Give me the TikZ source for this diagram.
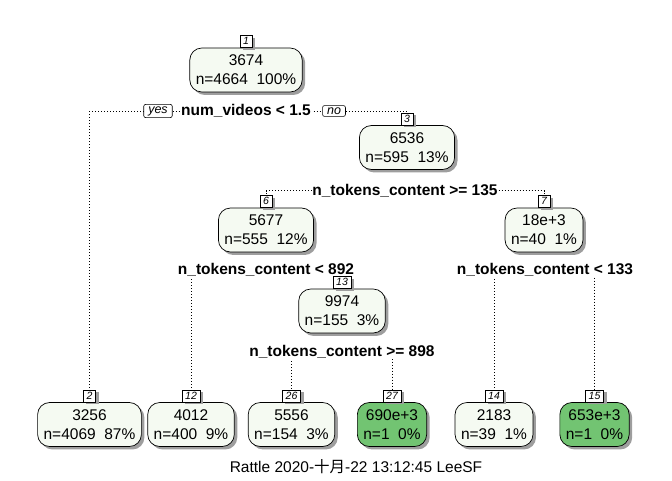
\documentclass[tikz,border=0pt]{standalone}
\usepackage{fontspec}
\setmainfont{Liberation Sans}
\newfontfamily\cjk{Noto Sans CJK SC}
\usetikzlibrary{shadows}
\definecolor{lightg}{HTML}{F5FAF2}
\definecolor{darkg}{HTML}{72C472}
\pgfdeclarelayer{bg}
\pgfsetlayers{bg,main}
\begin{document}
\begin{tikzpicture}[x=1pt,y=-1pt,
  tn/.style={draw, rounded corners=12pt, align=center,
    font=\fontsize{15.5}{19}\selectfont, inner xsep=6pt, inner ysep=7pt,
    fill=lightg, line width=0.7pt,
    drop shadow={shadow xshift=3pt, shadow yshift=-3pt, fill=black!38, opacity=1}},
  dk/.style={tn, fill=darkg},
  lbl/.style={draw, fill=white, font=\fontsize{10.5}{11}\selectfont\itshape,
    inner xsep=3.2pt, inner ysep=1pt, minimum height=12pt, line width=0.6pt,
    anchor=south,
    drop shadow={shadow xshift=3pt, shadow yshift=-2.5pt, fill=black!38, opacity=1}},
  sp/.style={font=\fontsize{15.5}{18}\selectfont\bfseries, fill=white, inner sep=0.8pt},
  yn/.style={draw, fill=white, rounded corners=2pt,
    font=\fontsize{12.5}{14}\selectfont\itshape, inner xsep=4.5pt, inner ysep=2pt,
    line width=0.6pt},
  conn/.style={line width=0.7pt, dash pattern=on 0.7pt off 2.3pt},
  captext/.style={font=\fontsize{15.5}{18}\selectfont}]
\useasboundingbox (0,0) rectangle (672,480);

% root
\node[tn] (n1) at (246,70) {3674\\n=4664~~100\%};
\node[lbl] (l1) at (n1.north) {1};
\node[sp] (s1) at (246,111) {num\_videos < 1.5};
\node[yn] (yes) at (158,111) {yes};
\node[yn] (no) at (334,111) {no};

% node 3
\node[tn] (n3) at (407,147.5) {6536\\n=595~~13\%};
\node[lbl] (l3) at (n3.north) {3};
\node[sp] (s3) at (405,190.5) {n\_tokens\_content >= 135};

% nodes 6 and 7
\node[tn] (n6) at (266,230) {5677\\n=555~~12\%};
\node[lbl] (l6) at (n6.north) {6};
\node[tn] (n7) at (544,230) {18e+3\\n=40~~1\%};
\node[lbl] (l7) at (n7.north) {7};
\node[sp] (s6) at (266,270) {n\_tokens\_content < 892};
\node[sp] (s7) at (545,270) {n\_tokens\_content < 133};

% node 13
\node[tn] (n13) at (342,311) {9974\\n=155~~3\%};
\node[lbl] (l13) at (n13.north) {13};
\node[sp] (s13) at (342,351.5) {n\_tokens\_content >= 898};

% leaves
\node[tn] (n2) at (89.5,424.5) {3256\\n=4069~~87\%};
\node[lbl] (l2) at (n2.north) {2};
\node[tn] (n12) at (191,424.5) {4012\\n=400~~9\%};
\node[lbl] (l12) at (n12.north) {12};
\node[tn] (n26) at (291.5,424.5) {5556\\n=154~~3\%};
\node[lbl] (l26) at (n26.north) {26};
\node[dk] (n27) at (392,424.5) {690e+3\\n=1~~0\%};
\node[lbl] (l27) at (n27.north) {27};
\node[tn] (n14) at (494,424.5) {2183\\n=39~~1\%};
\node[lbl] (l14) at (n14.north) {14};
\node[dk] (n15) at (594.5,424.5) {653e+3\\n=1~~0\%};
\node[lbl] (l15) at (n15.north) {15};

% caption
\node[captext] (caption) at (356,467) {Rattle 2020-{\cjk 十月}-22 13:12:45 LeeSF};

% connectors
\begin{pgfonlayer}{bg}
\draw[conn] (yes.west) -| (l2.north);
\draw[conn] (yes.east) -- (no.west);
\draw[conn] (no.east) -| (l3.north);
\draw[conn] (s3.west) -| (l6.north);
\draw[conn] (s3.east) -| (l7.north);
\draw[conn] (s6.center) -| (l12.north);
\draw[conn] (s6.center) -| (l13.north);
\draw[conn] (s7.center) -| (l14.north);
\draw[conn] (s7.center) -| (l15.north);
\draw[conn] (s13.center) -| (l26.north);
\draw[conn] (s13.center) -| (l27.north);
\end{pgfonlayer}
\end{tikzpicture}
\end{document}
